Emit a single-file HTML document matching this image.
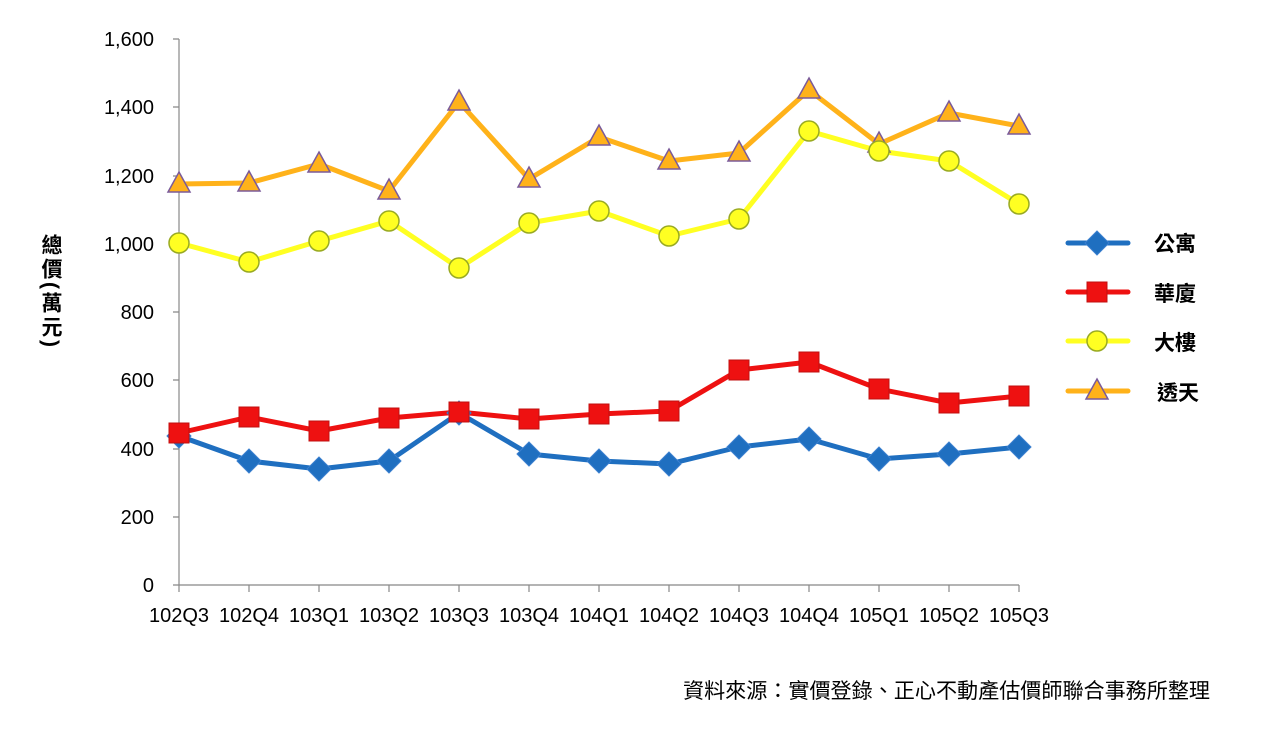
<!DOCTYPE html>
<html><head><meta charset="utf-8"><style>
body{margin:0;background:#fff;}
svg text{font-family:"Liberation Sans","Noto Sans CJK TC",sans-serif;}
#yt{position:absolute;left:38px;top:234px;writing-mode:vertical-rl;font-family:"Liberation Sans","Noto Sans CJK TC",sans-serif;font-size:21px;letter-spacing:3px;font-weight:bold;line-height:24px;color:#000;}
</style></head><body>
<div id="yt">總價(萬元)</div>
<svg width="1261" height="726" viewBox="0 0 1261 726" xmlns="http://www.w3.org/2000/svg">
<defs>
<path id="dia" d="M0,-12 L12,0 L0,12 L-12,0Z" fill="#1f6fc0" stroke="#3a7fcf" stroke-width="1"/>
<rect id="sq" x="-10" y="-10" width="20" height="20" fill="#ee1111" stroke="#c01010" stroke-width="1"/>
<circle id="ci" r="10" fill="#ffff22" stroke="#99aa22" stroke-width="1.5"/>
<path id="tr" d="M0,-12 L11,8 L-11,8Z" fill="#ffb21a" stroke="#7a5a9a" stroke-width="1.5"/>
</defs>
<g stroke="#888" stroke-width="1.2" fill="none">
<line x1="179" y1="39" x2="179" y2="585"/>
<line x1="179" y1="585" x2="1019" y2="585"/>
<path d="M173,39H179M173,107H179M173,176H179M173,244H179M173,312H179M173,380H179M173,449H179M173,517H179M173,585H179"/>
<path d="M179,585V592M249,585V592M319,585V592M389,585V592M459,585V592M529,585V592M599,585V592M669,585V592M739,585V592M809,585V592M879,585V592M949,585V592M1019,585V592"/>
</g>
<g font-size="20" fill="#000" text-anchor="end">
<text x="154" y="46">1,600</text><text x="154" y="114">1,400</text><text x="154" y="183">1,200</text><text x="154" y="251">1,000</text><text x="154" y="319">800</text><text x="154" y="387">600</text><text x="154" y="456">400</text><text x="154" y="524">200</text><text x="154" y="592">0</text>
</g>
<g font-size="20" fill="#000" text-anchor="middle">
<text x="179" y="622">102Q3</text><text x="249" y="622">102Q4</text><text x="319" y="622">103Q1</text><text x="389" y="622">103Q2</text><text x="459" y="622">103Q3</text><text x="529" y="622">103Q4</text><text x="599" y="622">104Q1</text><text x="669" y="622">104Q2</text><text x="739" y="622">104Q3</text><text x="809" y="622">104Q4</text><text x="879" y="622">105Q1</text><text x="949" y="622">105Q2</text><text x="1019" y="622">105Q3</text>
</g>
<polyline fill="none" stroke="#ffb21a" stroke-width="5" stroke-linejoin="round" points="179,184 249,183 319,164 389,191 459,102 529,179 599,137 669,161 739,153 809,90 879,144 949,113 1019,126"/>
<polyline fill="none" stroke="#ffff22" stroke-width="5" stroke-linejoin="round" points="179,243 249,262 319,241 389,221 459,268 529,223 599,211 669,236 739,219 809,131 879,151 949,161 1019,204"/>
<polyline fill="none" stroke="#1f6fc0" stroke-width="5" stroke-linejoin="round" points="179,436 249,461 319,469 389,461 459,413 529,454 599,461 669,464 739,447 809,439 879,459 949,454 1019,447"/>
<polyline fill="none" stroke="#ee1111" stroke-width="5" stroke-linejoin="round" points="179,433 249,417 319,431 389,418 459,412 529,419 599,414 669,411 739,370 809,362 879,389 949,403 1019,396"/>
<g>
<use href="#tr" x="179" y="184"/><use href="#tr" x="249" y="183"/><use href="#tr" x="319" y="164"/><use href="#tr" x="389" y="191"/><use href="#tr" x="459" y="102"/><use href="#tr" x="529" y="179"/><use href="#tr" x="599" y="137"/><use href="#tr" x="669" y="161"/><use href="#tr" x="739" y="153"/><use href="#tr" x="809" y="90"/><use href="#tr" x="879" y="144"/><use href="#tr" x="949" y="113"/><use href="#tr" x="1019" y="126"/>
<use href="#ci" x="179" y="243"/><use href="#ci" x="249" y="262"/><use href="#ci" x="319" y="241"/><use href="#ci" x="389" y="221"/><use href="#ci" x="459" y="268"/><use href="#ci" x="529" y="223"/><use href="#ci" x="599" y="211"/><use href="#ci" x="669" y="236"/><use href="#ci" x="739" y="219"/><use href="#ci" x="809" y="131"/><use href="#ci" x="879" y="151"/><use href="#ci" x="949" y="161"/><use href="#ci" x="1019" y="204"/>
<use href="#dia" x="179" y="436"/><use href="#dia" x="249" y="461"/><use href="#dia" x="319" y="469"/><use href="#dia" x="389" y="461"/><use href="#dia" x="459" y="413"/><use href="#dia" x="529" y="454"/><use href="#dia" x="599" y="461"/><use href="#dia" x="669" y="464"/><use href="#dia" x="739" y="447"/><use href="#dia" x="809" y="439"/><use href="#dia" x="879" y="459"/><use href="#dia" x="949" y="454"/><use href="#dia" x="1019" y="447"/>
<use href="#sq" x="179" y="433"/><use href="#sq" x="249" y="417"/><use href="#sq" x="319" y="431"/><use href="#sq" x="389" y="418"/><use href="#sq" x="459" y="412"/><use href="#sq" x="529" y="419"/><use href="#sq" x="599" y="414"/><use href="#sq" x="669" y="411"/><use href="#sq" x="739" y="370"/><use href="#sq" x="809" y="362"/><use href="#sq" x="879" y="389"/><use href="#sq" x="949" y="403"/><use href="#sq" x="1019" y="396"/>
</g>
<g stroke-width="5" stroke-linecap="round">
<line x1="1068" y1="243" x2="1128" y2="243" stroke="#1f6fc0"/>
<line x1="1068" y1="292" x2="1128" y2="292" stroke="#ee1111"/>
<line x1="1068" y1="341" x2="1128" y2="341" stroke="#ffff22"/>
<line x1="1068" y1="391" x2="1128" y2="391" stroke="#ffb21a"/>
</g>
<use href="#dia" x="1097" y="243"/><use href="#sq" x="1097" y="292"/><use href="#ci" x="1097" y="341"/><use href="#tr" x="1097" y="391"/>
<g font-size="21" font-weight="bold" fill="#000">
<text x="1154" y="251">公寓</text><text x="1154" y="301">華廈</text><text x="1154" y="350">大樓</text><text x="1157" y="400">透天</text>
</g>
<text x="683" y="698" font-size="21" fill="#000" textLength="527" lengthAdjust="spacingAndGlyphs">資料來源：實價登錄、正心不動產估價師聯合事務所整理</text>
</svg>
</body></html>
